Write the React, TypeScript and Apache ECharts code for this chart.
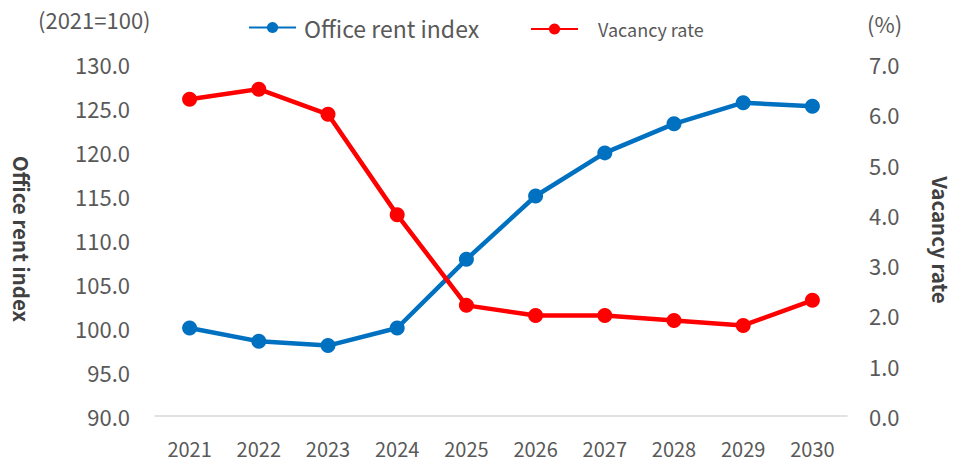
import React, { useEffect, useRef } from "react";
import * as echarts from "echarts";

const years = ["2021", "2022", "2023", "2024", "2025", "2026", "2027", "2028", "2029", "2030"];
const rentIndex = [100.0, 98.5, 98.0, 100.0, 107.8, 115.0, 119.9, 123.2, 125.6, 125.2];
const vacancyRate = [6.3, 6.5, 6.0, 4.0, 2.2, 2.0, 2.0, 1.9, 1.8, 2.3];
const rentName = "Office rent index";
const vacancyName = "Vacancy rate";

const FONT = "'Noto Sans CJK JP', 'Noto Sans', sans-serif";
const GREY = "#595959";

export default function App() {
  const ref = useRef<HTMLDivElement>(null);
  useEffect(() => {
    if (!ref.current) return;
    const chart = echarts.init(ref.current, undefined, { renderer: "svg" });
    chart.setOption({
      animation: false,
      textStyle: { fontFamily: FONT },
      grid: { left: 155, right: 108, top: 64, bottom: 47, containLabel: false },
      legend: [
        {
          left: 243,
          top: 11,
          itemWidth: 47,
          itemHeight: 14,
          data: [{ name: rentName }],
          textStyle: { fontSize: 23, color: GREY, fontFamily: FONT, padding: [0, 0, 0, 3] },
        },
        {
          left: 525,
          top: 15,
          itemWidth: 47,
          itemHeight: 14,
          data: [{ name: vacancyName }],
          textStyle: { fontSize: 18, color: GREY, fontFamily: FONT, padding: [0, 0, 0, 15] },
        },
      ],
      xAxis: {
        type: "category",
        data: years,
        boundaryGap: true,
        axisLine: { onZero: false, lineStyle: { color: "#d9d9d9", width: 1.5 } },
        axisTick: { show: false },
        axisLabel: { color: GREY, fontSize: 20, margin: 22, fontFamily: FONT },
      },
      yAxis: [
        {
          type: "value",
          min: 90,
          max: 130,
          interval: 5,
          axisLine: { show: false },
          axisTick: { show: false },
          splitLine: { show: false },
          axisLabel: {
            color: GREY,
            fontSize: 22,
            margin: 25,
            fontFamily: FONT,
            formatter: (v: number) => v.toFixed(1),
          },
        },
        {
          type: "value",
          min: 0,
          max: 7,
          interval: 1,
          position: "right",
          axisLine: { show: false },
          axisTick: { show: false },
          splitLine: { show: false },
          axisLabel: {
            color: GREY,
            fontSize: 22,
            margin: 22,
            fontFamily: FONT,
            formatter: (v: number) => v.toFixed(1),
          },
        },
      ],
      series: [
        {
          name: rentName,
          type: "line",
          yAxisIndex: 0,
          data: rentIndex,
          symbol: "circle",
          symbolSize: 15,
          lineStyle: { color: "#0070C0", width: 4.5 },
          itemStyle: { color: "#0070C0" },
        },
        {
          name: vacancyName,
          type: "line",
          yAxisIndex: 1,
          data: vacancyRate,
          symbol: "circle",
          symbolSize: 15,
          lineStyle: { color: "#FF0000", width: 4.5 },
          itemStyle: { color: "#FF0000" },
        },
      ],
      graphic: [
        {
          type: "text",
          left: 38,
          top: 8,
          style: { text: "(2021=100)", fontSize: 22, fill: GREY, fontFamily: FONT },
        },
        {
          type: "text",
          left: 867,
          top: 12,
          style: { text: "(%)", fontSize: 22, fill: GREY, fontFamily: FONT },
        },
        {
          type: "text",
          x: 22,
          y: 239,
          rotation: -Math.PI / 2,
          style: {
            text: rentName,
            fontSize: 20.5,
            fontWeight: "bold",
            fill: "#404040",
            fontFamily: FONT,
            align: "center",
            verticalAlign: "middle",
          },
        },
        {
          type: "text",
          x: 941,
          y: 240,
          rotation: -Math.PI / 2,
          style: {
            text: vacancyName,
            fontSize: 20.5,
            fontWeight: "bold",
            fill: "#404040",
            fontFamily: FONT,
            align: "center",
            verticalAlign: "middle",
          },
        },
      ],
    });
    return () => chart.dispose();
  }, []);
  return <div ref={ref} style={{ width: 955, height: 463, position: "absolute", left: 0, top: 0 }} />;
}
